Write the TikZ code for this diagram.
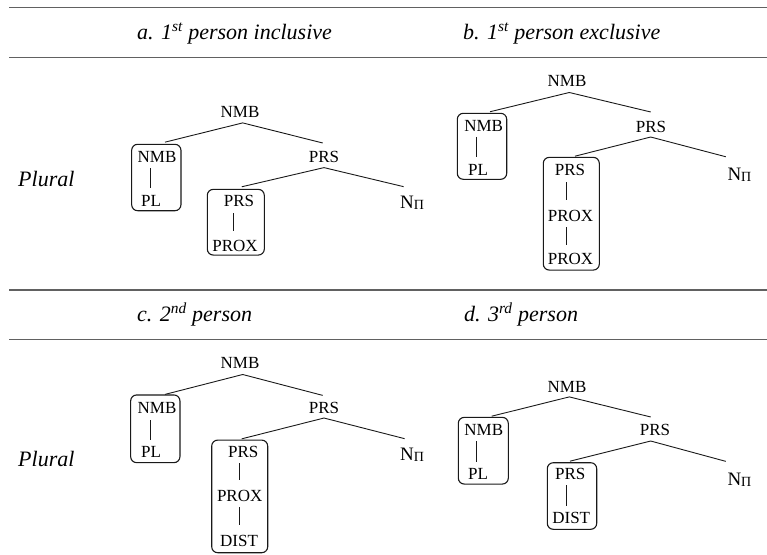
\documentclass[tikz,border=0pt]{standalone}
\usepackage{fontspec}
\setmainfont{Liberation Serif}
\begin{document}
\begin{tikzpicture}[x=1pt,y=-1pt,
  lab/.style={inner sep=0pt,font=\fontsize{17}{17}\selectfont},
  nlab/.style={inner sep=0pt,anchor=base west,font=\fontsize{19}{19}\selectfont},
  grp/.style={draw=black!90,rounded corners=6pt,line width=1.1pt,inner sep=0pt},
  edge/.style={draw=black!90,line width=0.9pt},
  rule/.style={draw=black!62,line width=1.4pt},
  head/.style={inner sep=0pt,anchor=base west,font=\fontsize{22}{22}\selectfont\itshape},
]
\useasboundingbox (0,0) rectangle (767,554);
\newcommand{\npi}{N\raisebox{-1.5pt}{\fontsize{14}{14}\selectfont Π}}

% rules
\draw[rule] (9,7.3) -- (767,7.3);
\draw[rule] (9,57.3) -- (767,57.3);
\draw[rule] (9,290) -- (767,290);
\draw[rule] (9,339.3) -- (767,339.3);

% headers
\node[head] (ha) at (137,39.5) {a. 1\textsuperscript{st} person inclusive};
\node[head] (hb) at (463,39.5) {b. 1\textsuperscript{st} person exclusive};
\node[head] (hc) at (137,321.5) {c. 2\textsuperscript{nd} person};
\node[head] (hd) at (464,321.5) {d. 3\textsuperscript{rd} person};
\node[head] (pl1) at (18,186) {Plural};
\node[head] (pl2) at (18,466.5) {Plural};

% ---------- panel a ----------
\node[lab] (aroot) at (240,111.5) {NMB};
\node[grp,minimum width=49.3pt,minimum height=66.4pt] (abox1) at (156.3,177.5) {};
\node[lab] (anmb) at (157,157) {NMB};
\node[lab] (apl) at (151,201) {PL};
\node[lab] (aprs) at (324,157) {PRS};
\node[grp,minimum width=57pt,minimum height=65.7pt] (abox2) at (235.8,222.2) {};
\node[lab] (aprs2) at (239,201) {PRS};
\node[lab] (aprox) at (235,246) {PROX};
\node[nlab] (an) at (400,208) {\npi};
\draw[edge] ([shift={(8.7,-1.6)}]abox1.north) -- ([shift={(2.7,5.6)}]aroot.south) -- ([shift={(-1.3,-8.1)}]aprs.north);
\draw[edge] ([shift={(5.9,-2)}]abox2.north) -- ([shift={(0,4.7)}]aprs.south) -- ([shift={(-8.5,-8.7)}]an.north);
\draw[edge] ([shift={(-7,5.4)}]anmb.south) -- ([shift={(-1,-7.4)}]apl.north);
\draw[edge] ([shift={(-5.7,6.4)}]aprs2.south) -- ([shift={(-1.7,-8.7)}]aprox.north);

% ---------- panel b ----------
\node[lab] (broot) at (567,81) {NMB};
\node[grp,minimum width=49.4pt,minimum height=66pt] (bbox1) at (482,146.3) {};
\node[lab] (bnmb) at (483.7,126.3) {NMB};
\node[lab] (bpl) at (478,169.5) {PL};
\node[lab] (bprs) at (651,126.7) {PRS};
\node[grp,minimum width=56pt,minimum height=112.7pt] (bbox2) at (571.3,213.7) {};
\node[lab] (bprs2) at (570,169.5) {PRS};
\node[lab] (bprox1) at (570.5,215.5) {PROX};
\node[lab] (bprox2) at (570.5,259) {PROX};
\node[nlab] (bn) at (727.3,180) {\npi};
\draw[edge] ([shift={(8,-1)}]bbox1.north) -- ([shift={(2.3,5.7)}]broot.south) -- ([shift={(-0.3,-8.8)}]bprs.north);
\draw[edge] ([shift={(3.7,-0.6)}]bbox2.north) -- ([shift={(-0.3,4.4)}]bprs.south) -- ([shift={(-13.6,-10.6)}]bn.north);
\draw[edge] ([shift={(-7,4.8)}]bnmb.south) -- ([shift={(-1.3,-7.2)}]bpl.north);
\draw[edge] ([shift={(-4,6.6)}]bprs2.south) -- ([shift={(-4.5,-9.9)}]bprox1.north);
\draw[edge] ([shift={(-4.5,5.6)}]bprox1.south) -- ([shift={(-4.5,-8.4)}]bprox2.north);

% ---------- panel c ----------
\node[lab] (croot) at (240,362.5) {NMB};
\node[grp,minimum width=49.3pt,minimum height=67.7pt] (cbox1) at (155.3,428.8) {};
\node[lab] (cnmb) at (157,407.5) {NMB};
\node[lab] (cpl) at (151,452) {PL};
\node[lab] (cprs) at (324,407.5) {PRS};
\node[grp,minimum width=56pt,minimum height=112.6pt] (cbox2) at (239.7,496.4) {};
\node[lab] (cprs2) at (243.3,452) {PRS};
\node[lab] (cprox) at (239.7,496) {PROX};
\node[lab] (cdist) at (239,540.7) {DIST};
\node[nlab] (cn) at (400,460) {\npi};
\draw[edge] ([shift={(9.7,0)}]cbox1.north) -- ([shift={(2.7,6.2)}]croot.south) -- ([shift={(-1.3,-6.2)}]cprs.north);
\draw[edge] ([shift={(2,-0.7)}]cbox2.north) -- ([shift={(0,4.6)}]cprs.south) -- ([shift={(-7.5,-8.7)}]cn.north);
\draw[edge] ([shift={(-7,6.9)}]cnmb.south) -- ([shift={(-1,-6.4)}]cpl.north);
\draw[edge] ([shift={(-4.3,5.1)}]cprs2.south) -- ([shift={(-0.7,-10.4)}]cprox.north);
\draw[edge] ([shift={(-0.7,5.1)}]cprox.south) -- ([shift={(0,-10.1)}]cdist.north);

% ---------- panel d ----------
\node[lab] (droot) at (567,387) {NMB};
\node[grp,minimum width=50pt,minimum height=66.7pt] (dbox1) at (483.3,450.7) {};
\node[lab] (dnmb) at (483.8,430) {NMB};
\node[lab] (dpl) at (478,473.8) {PL};
\node[lab] (dprs) at (655,430) {PRS};
\node[grp,minimum width=49.4pt,minimum height=66.6pt] (dbox2) at (572,496) {};
\node[lab] (dprs2) at (570.3,473.8) {PRS};
\node[lab] (ddist) at (571.2,517.5) {DIST};
\node[nlab] (dn) at (727.3,485) {\npi};
\draw[edge] ([shift={(8.4,-0.6)}]dbox1.north) -- ([shift={(2.3,4.1)}]droot.south) -- ([shift={(-4.3,-7.1)}]dprs.north);
\draw[edge] ([shift={(-2,-1)}]dbox2.north) -- ([shift={(-4.3,5.1)}]dprs.south) -- ([shift={(-13.6,-11)}]dn.north);
\draw[edge] ([shift={(-7.1,5.4)}]dnmb.south) -- ([shift={(-1.3,-6.5)}]dpl.north);
\draw[edge] ([shift={(-4.3,5.6)}]dprs2.south) -- ([shift={(-5.2,-5.9)}]ddist.north);
\end{tikzpicture}
\end{document}
